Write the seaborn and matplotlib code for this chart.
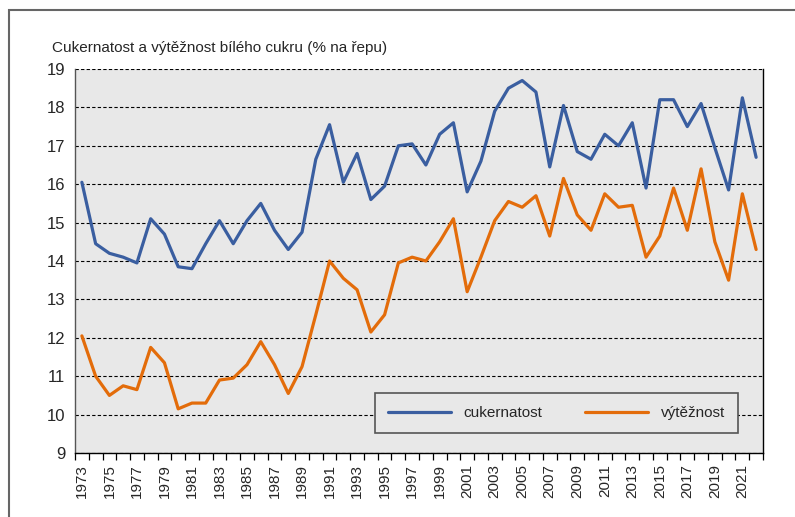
import numpy as np
import pandas as pd
import seaborn as sns
import matplotlib.pyplot as plt
from matplotlib.patches import Rectangle

years = list(range(1973, 2023))
cukernatost = [16.05, 14.45, 14.2, 14.1, 13.95, 15.1, 14.7, 13.85, 13.8, 14.45,
               15.05, 14.45, 15.05, 15.5, 14.8, 14.3, 14.75, 16.65, 17.55, 16.05,
               16.8, 15.6, 15.95, 17.0, 17.05, 16.5, 17.3, 17.6, 15.8, 16.6,
               17.9, 18.5, 18.7, 18.4, 16.45, 18.05, 16.85, 16.65, 17.3, 17.0,
               17.6, 15.9, 18.2, 18.2, 17.5, 18.1, 16.95, 15.85, 18.25, 16.7]
vyteznost = [12.05, 11.0, 10.5, 10.75, 10.65, 11.75, 11.35, 10.15, 10.3, 10.3,
             10.9, 10.95, 11.3, 11.9, 11.3, 10.55, 11.25, 12.6, 14.0, 13.55,
             13.25, 12.15, 12.6, 13.95, 14.1, 14.0, 14.5, 15.1, 13.2, 14.1,
             15.05, 15.55, 15.4, 15.7, 14.65, 16.15, 15.2, 14.8, 15.75, 15.4,
             15.45, 14.1, 14.65, 15.9, 14.8, 16.4, 14.5, 13.5, 15.75, 14.3]
series_names = ["cukernatost", "výtěžnost"]
title = "Cukernatost a výtěžnost bílého cukru (% na řepu)"

df = pd.DataFrame({"rok": years, series_names[0]: cukernatost, series_names[1]: vyteznost})
long = df.melt(id_vars="rok", var_name="serie", value_name="hodnota")

sns.set_style("white")
plt.rcParams['font.family'] = ['Liberation Sans Narrow', 'Liberation Sans', 'DejaVu Sans']

fig = plt.figure(figsize=(7.95, 5.17), dpi=100)
ax = fig.add_axes([75/795, 1-453/517, (763-75)/795, (453-69)/517])
ax.set_facecolor("#e8e8e8")

sns.lineplot(data=long, x="rok", y="hodnota", hue="serie", ax=ax,
             palette=["#3a5ea0", "#e36c0a"], linewidth=2.3)

ax.set_xlim(1972.5, 2022.5)
ax.set_ylim(9, 19)
ax.set_yticks(range(9, 20))
ax.yaxis.grid(True, color="black", linestyle=(0, (3, 2)), linewidth=0.8)
ax.set_axisbelow(True)

ax.set_xticks(years[::2])
ax.set_xticklabels([str(y) for y in years[::2]], rotation=90)
ax.set_xticks(np.arange(1972.5, 2023.5, 1), minor=True)
ax.tick_params(axis="x", which="major", length=0, labelsize=11, pad=8)
ax.tick_params(axis="x", which="minor", length=5, width=0.9, color="black", direction="out")
ax.tick_params(axis="y", length=5, width=0.9, color="black", direction="out", labelsize=12, pad=2)
ax.xaxis.set_ticks_position("bottom")
ax.set_xlabel("")
ax.set_ylabel("")

for s in ["left", "right", "bottom"]:
    ax.spines[s].set_visible(True)
    ax.spines[s].set_color("black")
    ax.spines[s].set_linewidth(1)
ax.spines["left"].set_color("#555555")
ax.spines["top"].set_visible(False)

leg = ax.legend(loc="lower right", bbox_to_anchor=(0.9637, 0.052), ncol=2, frameon=True,
                fancybox=False, fontsize=11, handlelength=4.1, columnspacing=2.8,
                borderpad=0.85, handletextpad=0.85, borderaxespad=0)
leg.get_frame().set_facecolor("#e8e8e8")
leg.get_frame().set_edgecolor("#555555")
leg.get_frame().set_linewidth(1.2)
leg.get_frame().set_alpha(1)

fig.text(52/795, 1-48/517, title, fontsize=11, va="center", ha="left")

fig.patches.append(Rectangle((9/795, -0.1), 2, 1.1 - 10/517, transform=fig.transFigure,
                             fill=False, edgecolor="#666666", linewidth=1.5))

fig.savefig("out.png", dpi=100)
